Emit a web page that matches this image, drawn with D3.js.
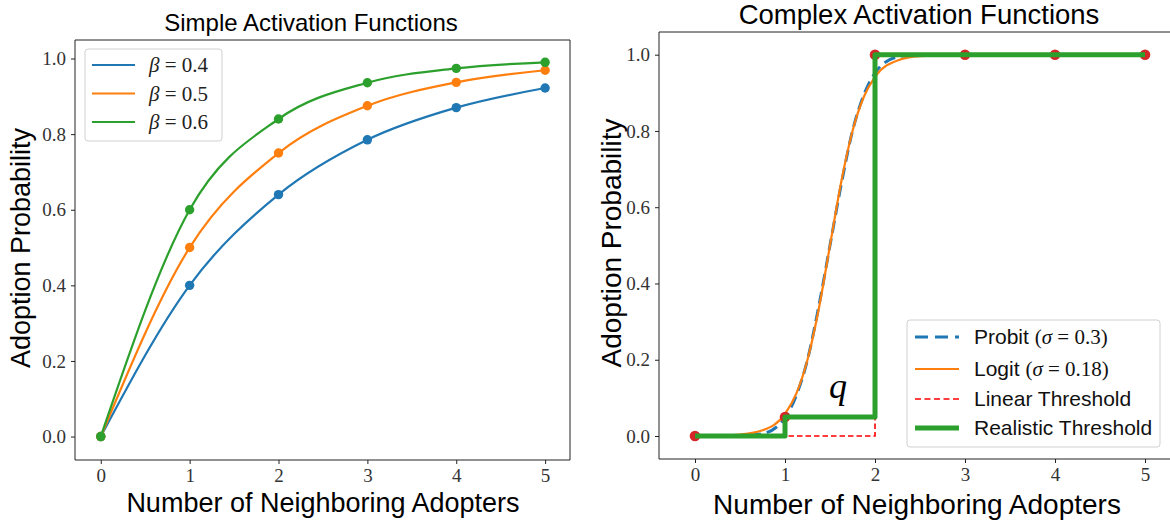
<!DOCTYPE html>
<html>
<head>
<meta charset="utf-8">
<script src="https://cdn.jsdelivr.net/npm/d3@7"></script>
<style>
  html, body { margin: 0; padding: 0; background: #fff; }
  svg { display: block; }
  .tick text { font-family: "Liberation Serif", serif; font-size: 19px; fill: #333; }
  .tick line { stroke: #222; stroke-width: 1; }
</style>
</head>
<body>
<svg id="chart" width="1170" height="523"></svg>
<script>
// ---------------- data ----------------
const xInt = [0, 1, 2, 3, 4, 5];
const betaLabels = ["0.4", "0.5", "0.6"];
const beta04 = [0, 0.40, 0.64, 0.785, 0.87, 0.922];
const beta05 = [0, 0.50, 0.75, 0.875, 0.937, 0.969];
const beta06 = [0, 0.60, 0.84, 0.936, 0.974, 0.99];

const sigX = [0, 0.25, 0.5, 0.75, 1, 1.125, 1.25, 1.375, 1.5, 1.625, 1.75, 1.875, 2, 2.25, 2.5, 3, 3.5, 4, 4.5, 5];
const probitY = [0, 0, 0.0004, 0.006, 0.048, 0.106, 0.20, 0.34, 0.5, 0.66, 0.80, 0.894, 0.952, 0.994, 1, 1, 1, 1, 1, 1];
const logitY = [0.0002, 0.001, 0.004, 0.015, 0.058, 0.111, 0.20, 0.333, 0.5, 0.667, 0.80, 0.889, 0.942, 0.985, 0.996, 1, 1, 1, 1, 1];

const linearX = [0, 2, 2, 5];
const linearY = [0, 0, 1, 1];
const realX = [0, 1, 1, 2, 2, 5];
const realY = [0, 0, 0.05, 0.05, 1, 1];
const dotY = [0, 0.05, 1, 1, 1, 1];

const yTicks = [0, 0.2, 0.4, 0.6, 0.8, 1.0];
const titles = ["Simple Activation Functions", "Complex Activation Functions"];
const xLabel = "Number of Neighboring Adopters";
const yLabel = "Adoption Probability";
const rightLegend = [
  {name: "Probit ", math: ["(", "σ", " = 0.3)"]},
  {name: "Logit ", math: ["(", "σ", " = 0.18)"]},
  {name: "Linear Threshold", math: null},
  {name: "Realistic Threshold", math: null}
];

// ---------------- styles ----------------
const C = {blue: "#1f77b4", orange: "#ff7f0e", green: "#2ca02c", red: "#d62728", pure: "#ff0000"};
const SANS = "'Liberation Sans', Arial, sans-serif";
const SERIF = "'Liberation Serif', serif";

const svg = d3.select("#chart");

function frame(g, x0, x1, y0, y1, sides) {
  const s = g.append("g").attr("stroke", "#222").attr("stroke-width", 1).attr("fill", "none");
  if (sides.includes("l")) s.append("line").attr("x1", x0).attr("x2", x0).attr("y1", y0).attr("y2", y1);
  if (sides.includes("r")) s.append("line").attr("x1", x1).attr("x2", x1).attr("y1", y0).attr("y2", y1);
  if (sides.includes("t")) s.append("line").attr("x1", x0).attr("x2", x1).attr("y1", y0).attr("y2", y0);
  if (sides.includes("b")) s.append("line").attr("x1", x0).attr("x2", x1).attr("y1", y1).attr("y2", y1);
}

function axes(g, x, y, yBottom, xLeft) {
  const ax = g.append("g").attr("transform", `translate(0,${yBottom})`)
    .call(d3.axisBottom(x).tickValues(xInt).tickFormat(d3.format("d")).tickSize(4).tickPadding(5));
  ax.select(".domain").remove();
  const ay = g.append("g").attr("transform", `translate(${xLeft},0)`)
    .call(d3.axisLeft(y).tickValues(yTicks).tickFormat(d3.format(".1f")).tickSize(4).tickPadding(5));
  ay.select(".domain").remove();
}

// ================= LEFT PANEL =================
{
  const X0 = 75, X1 = 570, Y0 = 40, Y1 = 460;
  const x = d3.scaleLinear().domain([-0.29, 5.28]).range([X0, X1]);
  const y = d3.scaleLinear().domain([-0.062, 1.049]).range([Y1, Y0]);
  const g = svg.append("g");

  const series = [
    {vals: beta04, color: C.blue},
    {vals: beta05, color: C.orange},
    {vals: beta06, color: C.green}
  ];
  const line = d3.line().x((d, i) => x(xInt[i])).y(d => y(d)).curve(d3.curveMonotoneX);
  series.forEach(s => {
    g.append("path").attr("d", line(s.vals)).attr("fill", "none")
      .attr("stroke", s.color).attr("stroke-width", 2.2);
    g.selectAll(null).data(s.vals).enter().append("circle")
      .attr("cx", (d, i) => x(xInt[i])).attr("cy", d => y(d)).attr("r", 4.7).attr("fill", s.color);
  });

  frame(g, X0, X1, Y0, Y1, "lrtb");
  axes(g, x, y, Y1, X0);

  // legend
  const lg = g.append("g");
  lg.append("rect").attr("x", 85).attr("y", 49).attr("width", 137).attr("height", 92).attr("rx", 3)
    .attr("fill", "#fff").attr("fill-opacity", 0.8).attr("stroke", "#d0d0d0");
  series.forEach((s, i) => {
    const ly = 65 + i * 28.5;
    lg.append("line").attr("x1", 92).attr("x2", 135).attr("y1", ly).attr("y2", ly)
      .attr("stroke", s.color).attr("stroke-width", 2.2);
    const t = lg.append("text").attr("x", 149).attr("y", ly + 7)
      .attr("font-family", SERIF).attr("font-size", 21).attr("fill", "#222");
    t.append("tspan").attr("font-style", "italic").text("β");
    t.append("tspan").text(" = " + betaLabels[i]);
  });

  svg.append("text").attr("x", 311).attr("y", 31).attr("text-anchor", "middle")
    .attr("font-family", SANS).attr("font-size", 24).attr("fill", "#000").text(titles[0]);
  svg.append("text").attr("x", 323).attr("y", 512).attr("text-anchor", "middle")
    .attr("font-family", SANS).attr("font-size", 27).attr("fill", "#000").text(xLabel);
  svg.append("text").attr("transform", `translate(30,248) rotate(-90)`).attr("text-anchor", "middle")
    .attr("font-family", SANS).attr("font-size", 27).attr("fill", "#000").text(yLabel);
}

// ================= RIGHT PANEL =================
{
  const X0 = 659, X1 = 1175, Y0 = 32, Y1 = 459;
  const x = d3.scaleLinear().domain([-0.4, 5.333]).range([X0, X1]);
  const y = d3.scaleLinear().domain([-0.0603, 1.0595]).range([Y1, Y0]);
  const g = svg.append("g");

  const sline = d3.line().x((d, i) => x(sigX[i])).y(d => y(d)).curve(d3.curveMonotoneX);
  g.append("path").attr("d", sline(probitY)).attr("fill", "none")
    .attr("stroke", C.blue).attr("stroke-width", 3).attr("stroke-dasharray", "12,6");
  g.append("path").attr("d", sline(logitY)).attr("fill", "none")
    .attr("stroke", C.orange).attr("stroke-width", 2.2);

  const lin = d3.line().x((d, i) => x(linearX[i])).y(d => y(d));
  g.append("path").attr("d", lin(linearY)).attr("fill", "none")
    .attr("stroke", C.pure).attr("stroke-width", 1.6).attr("stroke-dasharray", "5.5,3");

  g.selectAll(null).data(dotY).enter().append("circle")
    .attr("cx", (d, i) => x(xInt[i])).attr("cy", d => y(d)).attr("r", 5.3).attr("fill", C.red);

  const rl = d3.line().x((d, i) => x(realX[i])).y(d => y(d));
  g.append("path").attr("d", rl(realY)).attr("fill", "none")
    .attr("stroke", C.green).attr("stroke-width", 5).attr("stroke-linejoin", "round");

  // q annotation
  g.append("text").attr("x", 838).attr("y", 398).attr("text-anchor", "middle")
    .attr("font-family", SERIF).attr("font-style", "italic").attr("font-size", 36).attr("fill", "#000").text("q");

  frame(g, X0, X1, Y0, Y1, "ltb");
  axes(g, x, y, Y1, X0);

  // legend
  const lg = g.append("g");
  lg.append("rect").attr("x", 907).attr("y", 320).attr("width", 253).attr("height", 127).attr("rx", 3)
    .attr("fill", "#fff").attr("fill-opacity", 0.8).attr("stroke", "#d0d0d0");
  const styles = [
    {color: C.blue, w: 3, dash: "13,7"},
    {color: C.orange, w: 2.2, dash: null},
    {color: C.pure, w: 1.6, dash: "6,3.5"},
    {color: C.green, w: 5, dash: null}
  ];
  const ly = [337, 369, 399, 428];
  rightLegend.forEach((e, i) => {
    const st = styles[i];
    lg.append("line").attr("x1", 915).attr("x2", 959).attr("y1", ly[i]).attr("y2", ly[i])
      .attr("stroke", st.color).attr("stroke-width", st.w).attr("stroke-dasharray", st.dash);
    const t = lg.append("text").attr("x", 974).attr("y", ly[i] + 7)
      .attr("font-family", SANS).attr("font-size", 21).attr("fill", "#111");
    t.append("tspan").text(e.name);
    if (e.math) {
      t.append("tspan").attr("font-family", SERIF).attr("font-size", 21).text(e.math[0]);
      t.append("tspan").attr("font-family", SERIF).attr("font-size", 21).attr("font-style", "italic").text(e.math[1]);
      t.append("tspan").attr("font-family", SERIF).attr("font-size", 21).text(e.math[2]);
    }
  });

  svg.append("text").attr("x", 919).attr("y", 24).attr("text-anchor", "middle")
    .attr("font-family", SANS).attr("font-size", 27.5).attr("fill", "#000").text(titles[1]);
  svg.append("text").attr("x", 917).attr("y", 514).attr("text-anchor", "middle")
    .attr("font-family", SANS).attr("font-size", 28).attr("fill", "#000").text(xLabel);
  svg.append("text").attr("transform", `translate(621,243) rotate(-90)`).attr("text-anchor", "middle")
    .attr("font-family", SANS).attr("font-size", 28).attr("fill", "#000").text(yLabel);
}
</script>
</body>
</html>
